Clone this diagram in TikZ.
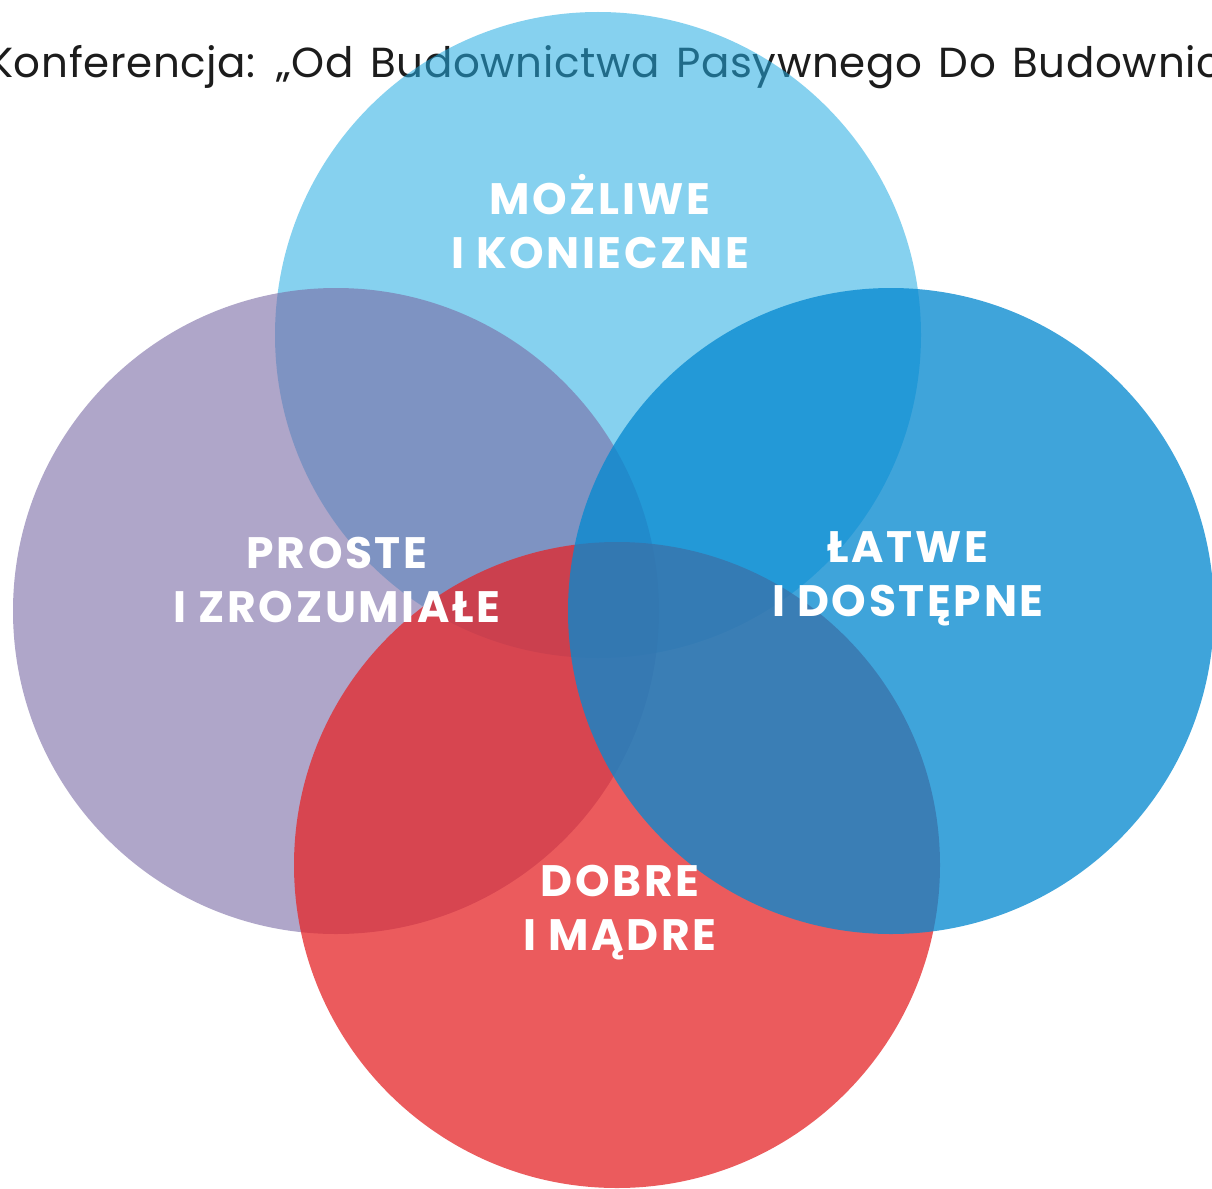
\documentclass[tikz,border=0pt]{standalone}
\usepackage{fontspec}
\setmainfont{Poppins}
\newfontfamily\titlefont{Poppins}[LetterSpace=1.5, WordSpace=1.4]
\newfontfamily\labfont{Poppins}[LetterSpace=6]
\definecolor{cL}{RGB}{36,173,227}
\definecolor{cP}{RGB}{122,107,165}
\definecolor{cR}{RGB}{229,37,40}
\definecolor{cB}{RGB}{6,137,208}
\definecolor{titlegray}{RGB}{28,28,28}
\tikzset{
  venn/.style={circle, minimum size=646pt, inner sep=0pt, draw=none},
  lab/.style={text=white, align=center, inner sep=0pt, font=\labfont\bfseries\fontsize{44}{54}\selectfont},
}
\begin{document}
\begin{tikzpicture}[x=1pt,y=-1pt]
\useasboundingbox (0,0) rectangle (1212,1188);
\clip (0,0) rectangle (1212,1188);
\fill[white] (0,0) rectangle (1212,1188);
\node[anchor=base west, inner sep=0pt, text=titlegray, font=\titlefont\fontsize{42}{50}\selectfont] (title) at (-12,78) {Konferencja: „Od Budownictwa Pasywnego Do Budownic};
\node[venn, fill=cL, fill opacity=0.55] (L) at (598,335) {};
\node[venn, fill=cP, fill opacity=0.6] (P) at (336,611) {};
\node[venn, fill=cR, fill opacity=0.75] (R) at (617,865) {};
\node[venn, fill=cB, fill opacity=0.77] (B) at (891,611) {};
\node[lab] (tL) at (600,222) {MOŻLIWE\\I KONIECZNE};
\node[lab] (tP) at (337,580) {PROSTE\\I ZROZUMIAŁE};
\node[lab] (tB) at (908,579) {ŁATWE\\I DOSTĘPNE};
\node[lab] (tR) at (620,913) {DOBRE\\I MĄDRE};
\end{tikzpicture}
\end{document}
